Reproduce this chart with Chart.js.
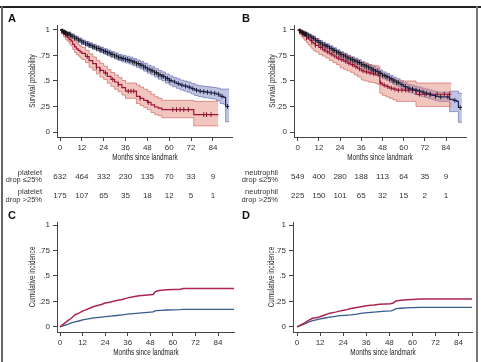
<!DOCTYPE html>
<html><head><meta charset="utf-8">
<script src="https://cdn.jsdelivr.net/npm/chart.js@4"></script>
<style>
html,body{margin:0;padding:0;background:#fff;}
#wrap{position:relative;width:481px;height:362px;overflow:hidden;font-family:'Liberation Sans',Arial,sans-serif;color:#333;background:#fff;}
canvas{position:absolute;}
.letter{position:absolute;font-weight:bold;font-size:11px;color:#111;transform:translate(-50%,-50%);}
.num{position:absolute;font-size:8px;transform:translate(-50%,-50%);white-space:nowrap;color:#333;}
.rowlab{position:absolute;font-size:7.5px;line-height:7.5px;text-align:right;transform:translate(-100%,-50%);white-space:nowrap;color:#333;}
.xt{position:absolute;font-size:8.6px;white-space:nowrap;color:#222;transform:translate(-50%,-50%) scaleX(0.74);}
.yt{position:absolute;font-size:8.6px;white-space:nowrap;color:#222;transform:translate(-50%,-50%) rotate(-90deg) scaleX(0.74);}
.frame{position:absolute;z-index:5;}
</style></head><body><div id="wrap">
<canvas id="cA" width="240" height="165" style="left:0;top:0"></canvas>
<canvas id="cB" width="241" height="165" style="left:240px;top:0"></canvas>
<canvas id="cC" width="240" height="165" style="left:0;top:197px"></canvas>
<canvas id="cD" width="241" height="165" style="left:240px;top:197px"></canvas>
<div class="frame" style="left:0;top:6px;width:481px;height:1.5px;background:#222"></div>
<div class="frame" style="left:1px;top:6px;width:2px;height:356px;background:#666"></div>
<div class="frame" style="left:476px;top:6px;width:2px;height:356px;background:#777"></div>
<div class="letter" style="left:12px;top:18px">A</div>
<div class="letter" style="left:246px;top:18px">B</div>
<div class="letter" style="left:12px;top:215px">C</div>
<div class="letter" style="left:246px;top:215px">D</div>
</div>
<script>
// ---------- data ----------
const xTicks=[0,12,24,36,48,60,72,84];
const yTicks=[0,.25,.5,.75,1];
const yTickLabels=['0','.25','.5','.75','1'];

// Panel A: platelet drop <=25% (blue)
const aBlueTime=[0,1,2,3,4,6,8,10,12,14,16,18,20,22,24,26,28,30,32,34,36,38,40,42,44,46,48,50,52,54,56,58,60,62,64,66,68,70,72,74,76,78,80,82,84,86,88,90,91,93];
const aBlueSurv=[1,.99,.98,.97,.96,.94,.92,.90,.88,.865,.85,.835,.82,.805,.79,.775,.76,.745,.73,.72,.71,.70,.685,.67,.655,.635,.615,.60,.58,.56,.545,.525,.505,.49,.475,.46,.45,.44,.425,.41,.40,.395,.39,.385,.38,.37,.35,.34,.25,.25];
const aBlueHigh=[1,1,.995,.985,.975,.96,.94,.92,.90,.887,.873,.859,.845,.831,.817,.803,.789,.775,.76,.752,.743,.734,.72,.706,.692,.673,.654,.64,.621,.602,.588,.569,.55,.536,.522,.508,.499,.49,.476,.462,.453,.449,.445,.441,.437,.43,.42,.42,.42,.42];
const aBlueLow=[1,.98,.965,.955,.945,.92,.90,.88,.86,.843,.827,.811,.795,.779,.763,.747,.731,.715,.70,.688,.677,.666,.65,.634,.618,.597,.576,.56,.539,.518,.502,.481,.46,.444,.428,.412,.401,.39,.374,.358,.347,.341,.335,.329,.323,.31,.28,.27,.10,.10];
const aBlueCens=[1,1.5,2,2.5,3,3.5,4,4.5,5,5.5,6,7,8,9,10,11,12,13,14,15,16,17,18,19,20,21,22,23,24,25,26,27,28,29,30,31,32,33,34,35,36,37,38,39,40,41,42,43,44,45,46,47,48,49,50,51,52,53,54,55,56,57,58,59,60,61,63,65,67,69,71,73,75,77,79,81,83,85,87,89,92];
// Panel A: platelet drop >25% (red)
const aRedTime=[0,1,2,3,4,5,6,7,8,9,10,11,12,14,16,18,20,22,24,26,28,30,32,34,36,42,44,46,48,50,52,54,56,73.5,87];
const aRedSurv=[1,.98,.96,.94,.925,.905,.89,.86,.835,.815,.80,.785,.77,.74,.70,.67,.635,.605,.58,.545,.515,.49,.465,.435,.40,.35,.33,.31,.29,.265,.245,.235,.22,.17,.17];
const aRedHigh=[1,1,.99,.975,.96,.945,.935,.91,.89,.87,.855,.842,.83,.80,.765,.735,.70,.672,.645,.612,.583,.558,.533,.505,.48,.46,.44,.42,.40,.37,.345,.33,.31,.30,.30];
const aRedLow=[1,.96,.93,.905,.89,.865,.845,.81,.78,.76,.745,.728,.71,.68,.635,.605,.57,.538,.515,.478,.447,.42,.395,.363,.33,.28,.26,.24,.22,.19,.17,.16,.14,.06,.06];
const aRedCens=[15,20,22,25,29,32,37.5,39,40.5,44,48.5,62,64,66,68,70.5,79,80.5,83];

// Panel B: neutrophil drop <=25% (blue)
const bBlueTime=[0,1,2,3,4,6,8,10,12,14,16,18,20,22,24,26,28,30,32,34,36,38,40,42,44,46,48,50,52,54,56,58,60,62,64,66,68,70,72,74,76,78,80,82,84,86,88,90,91,93];
const bBlueSurv=[1,.99,.98,.97,.96,.94,.92,.895,.875,.855,.84,.82,.80,.78,.76,.745,.725,.71,.695,.68,.66,.645,.63,.61,.595,.575,.555,.54,.52,.50,.485,.465,.445,.43,.42,.41,.40,.39,.38,.37,.36,.35,.345,.345,.345,.32,.31,.30,.24,.24];
const bBlueHigh=[1,1,.995,.985,.975,.958,.94,.917,.898,.879,.864,.845,.826,.806,.787,.772,.753,.738,.724,.709,.69,.676,.661,.642,.627,.608,.589,.574,.555,.536,.521,.502,.483,.468,.459,.45,.44,.431,.422,.412,.403,.394,.39,.39,.39,.40,.40,.40,.38,.38];
const bBlueLow=[1,.98,.965,.955,.945,.922,.90,.873,.852,.831,.816,.795,.774,.754,.733,.718,.697,.682,.666,.651,.63,.614,.599,.578,.563,.542,.521,.506,.485,.464,.449,.428,.407,.392,.381,.37,.36,.349,.338,.328,.317,.306,.30,.30,.30,.20,.20,.20,.095,.095];
const bBlueCens=[1,1.5,2,2.5,3,3.5,4,4.5,5,6,7,8,9,10,11,12,13,14,15,16,17,18,19,20,21,22,23,24,25,26,27,28,29,30,31,32,33,34,35,36,37,38,39,40,41,42,43,44,45,46,47,48,49,50,51,52,53,54,55,56,57,59,61,63,65,67,69,71,73,75,78,81,85,89,92];
// Panel B: neutrophil drop >25% (red)
const bRedTime=[0,1,2,3,4,5,6,7,8,9,10,12,14,16,18,20,22,24,26,28,30,32,34,36,38,40,42,44,45.5,46.5,48,50,52,54,56,67,87];
const bRedSurv=[1,.985,.97,.955,.94,.925,.91,.895,.88,.865,.85,.83,.805,.785,.765,.745,.725,.71,.695,.675,.66,.64,.62,.60,.59,.58,.57,.56,.55,.48,.46,.445,.43,.42,.41,.37,.37];
const bRedHigh=[1,1,.995,.99,.98,.97,.96,.95,.94,.925,.91,.875,.86,.84,.82,.80,.79,.78,.765,.745,.73,.71,.695,.68,.67,.66,.655,.65,.645,.58,.56,.545,.53,.515,.50,.48,.48];
const bRedLow=[1,.955,.935,.915,.895,.875,.855,.835,.815,.80,.785,.76,.745,.725,.70,.68,.66,.63,.615,.60,.585,.56,.54,.51,.50,.49,.485,.475,.465,.38,.36,.345,.33,.315,.30,.25,.25];
const bRedCens=[3,5,8,10,13,15,17,19,21,23,25,27,29,31,33,35,37,39,41,43,47,49,51,53,55,57,59,61,63,65,69,72,75,79,83,86];

// Risk tables
const riskAlow=[632,464,332,230,135,70,33,9];
const riskAhigh=[175,107,65,35,18,12,5,1];
const riskBlow=[549,400,280,188,113,64,35,9];
const riskBhigh=[225,150,101,65,32,15,2,1];

// Panel C: cumulative incidence (platelet)
const cRedTime=[0,2,4,6,8,10,12,14,16,18,20,22,24,27,30,33,36,39,42,45,48,49.5,50.5,52,54,57,60,64,65.5,92.5];
const cRedVal=[0,.03,.06,.085,.12,.135,.155,.17,.185,.20,.21,.22,.235,.245,.26,.27,.285,.295,.305,.31,.315,.318,.345,.355,.36,.365,.368,.37,.378,.378];
const cBlueTime=[0,2,4,6,8,10,12,15,18,21,24,27,30,33,36,39,42,45,48,49.5,51,54,57,60,64,65,92.5];
const cBlueVal=[0,.013,.025,.04,.05,.058,.068,.078,.088,.094,.10,.106,.112,.118,.125,.13,.135,.14,.145,.148,.16,.163,.166,.168,.17,.172,.172];
// Panel D: cumulative incidence (neutrophil)
const dRedTime=[0,2,4,6,8,10,12,14,17,20,22,25,28,31,34,37,40,43,46,48.5,50,51.5,54,57,60,64,91];
const dRedVal=[0,.02,.04,.065,.085,.09,.10,.115,.135,.145,.155,.165,.18,.19,.20,.21,.215,.222,.225,.228,.235,.255,.262,.267,.27,.274,.274];
const dBlueTime=[0,2,4,6,8,10,12,14,17,20,22,25,28,31,34,37,40,43,46,49,50,51.5,54,57,60,64,65,91];
const dBlueVal=[0,.015,.03,.048,.062,.07,.078,.085,.096,.104,.11,.114,.118,.125,.135,.14,.145,.15,.155,.158,.165,.18,.183,.186,.189,.192,.192,.192];

// ---------- styling ----------
Chart.defaults.font.family="'Liberation Sans',Arial,sans-serif";
Chart.defaults.font.size=8;
const BLUE={line:'#1c2766',fill:'rgba(118,126,196,0.45)',edge:'rgba(96,104,176,0.85)',cens:'#111',order:6};
const RED={line:'#a3123a',fill:'rgba(222,128,112,0.45)',edge:'rgba(204,98,92,0.85)',cens:'#7a0c28',order:5};

function stepAt(times,vals,t){let v=vals[0];for(let i=0;i<times.length;i++){if(times[i]<=t)v=vals[i];}return v;}
function pts(times,vals){return times.map((t,i)=>({x:t,y:vals[i]}));}

function kmSets(times,surv,lo,hi,cens,c){
  return [
    {data:pts(times,hi),stepped:'before',borderColor:c.edge,borderWidth:0.8,backgroundColor:c.fill,fill:'+1',pointRadius:0,order:c.order},
    {data:pts(times,lo),stepped:'before',borderColor:c.edge,borderWidth:0.8,backgroundColor:c.fill,fill:false,pointRadius:0,order:c.order},
    {data:pts(times,surv),stepped:'before',borderColor:c.line,borderWidth:1.2,fill:false,pointRadius:0,order:2},
    {data:cens.map(t=>({x:t,y:stepAt(times,surv,t)})),showLine:false,pointStyle:'line',rotation:90,pointRadius:2.4,pointHoverRadius:2.4,pointBorderColor:c.cens,pointBorderWidth:0.9,order:1}
  ];
}

function scales(o){
  return {
    x:{type:'linear',min:o.xmin,max:o.xmax,
      afterBuildTicks:s=>{s.ticks=xTicks.map(v=>({value:v}));},
      afterFit:s=>{s.height=o.xh;},
      ticks:{autoSkip:false,maxRotation:0,minRotation:0,padding:2,color:'#333',font:{size:8},callback:v=>String(v)},
      grid:{display:true,drawOnChartArea:false,drawTicks:true,tickLength:4,color:'#444',lineWidth:1},
      border:{display:true,color:'#444',width:1}
    },
    y:{type:'linear',min:o.ymin,max:o.ymax,
      afterBuildTicks:s=>{s.ticks=yTicks.map(v=>({value:v}));},
      afterFit:s=>{s.width=o.yw;},
      ticks:{autoSkip:false,padding:3,color:'#333',font:{size:8},callback:v=>yTickLabels[yTicks.indexOf(v)]},
      grid:{display:true,drawOnChartArea:false,drawTicks:true,tickLength:4,color:'#444',lineWidth:1},
      border:{display:true,color:'#444',width:1}
    }
  };
}

function make(id,datasets,o){
  return new Chart(document.getElementById(id),{
    type:'line',
    data:{datasets},
    options:{responsive:false,animation:false,devicePixelRatio:1,
      layout:{padding:{top:o.pt,right:o.pr,left:0,bottom:0}},
      plugins:{legend:{display:false},tooltip:{enabled:false}},
      elements:{line:{tension:0}},
      scales:scales(o)}
  });
}

const chA=make('cA',[...kmSets(aBlueTime,aBlueSurv,aBlueLow,aBlueHigh,aBlueCens,BLUE),...kmSets(aRedTime,aRedSurv,aRedLow,aRedHigh,aRedCens,RED)],
  {xmin:-1.65,xmax:94.5,ymin:-0.049,ymax:1.049,yw:57,xh:28,pt:25,pr:8});
const chB=make('cB',[...kmSets(bBlueTime,bBlueSurv,bBlueLow,bBlueHigh,bBlueCens,BLUE),...kmSets(bRedTime,bRedSurv,bRedLow,bRedHigh,bRedCens,RED)],
  {xmin:-2.1,xmax:95.3,ymin:-0.049,ymax:1.049,yw:54,xh:28,pt:25,pr:15});

function ciSets(rt,rv,bt,bv){
  return [
    {data:pts(rt,rv),borderColor:'#ac2450',borderWidth:1.5,pointRadius:0,fill:false},
    {data:pts(bt,bv),borderColor:'#3b5a8c',borderWidth:1.3,pointRadius:0,fill:false}
  ];
}
const chC=make('cC',ciSets(cRedTime,cRedVal,cBlueTime,cBlueVal),
  {xmin:-1.6,xmax:92.5,ymin:-0.05,ymax:1.03,yw:57,xh:30,pt:25,pr:6});
const chD=make('cD',ciSets(dRedTime,dRedVal,dBlueTime,dBlueVal),
  {xmin:-2.1,xmax:91,ymin:-0.05,ymax:1.03,yw:53,xh:30,pt:25,pr:9});

// ---------- text: titles & risk tables ----------
const wrap=document.getElementById('wrap');
function addDiv(cls,html,x,y){const d=document.createElement('div');d.className=cls;d.innerHTML=html;d.style.left=x+'px';d.style.top=y+'px';wrap.appendChild(d);}
function titles(chart,offX,offY,ytext,yTitleX,xTitleY){
  const a=chart.chartArea;
  addDiv('xt','Months since landmark',offX+(a.left+a.right)/2,xTitleY);
  addDiv('yt',ytext,yTitleX,offY+(a.top+a.bottom)/2);
}
titles(chA,0,0,'Survival probability',32,157);
titles(chB,240,0,'Survival probability',272,157);
titles(chC,0,197,'Cumulative incidence',32,352);
titles(chD,240,197,'Cumulative incidence',271,352);

function riskRow(chart,offX,vals,y){vals.forEach((v,i)=>addDiv('num',String(v),offX+chart.scales.x.getPixelForValue(xTicks[i]),y));}
riskRow(chA,0,riskAlow,175.5);
riskRow(chA,0,riskAhigh,195);
riskRow(chB,240,riskBlow,175.5);
riskRow(chB,240,riskBhigh,195);
addDiv('rowlab','platelet<br>drop ≤25%',42,175.5);
addDiv('rowlab','platelet<br>drop &gt;25%',42,195);
addDiv('rowlab','neutrophil<br>drop ≤25%',278,175.5);
addDiv('rowlab','neutrophil<br>drop &gt;25%',278,195);
</script>
</body></html>
